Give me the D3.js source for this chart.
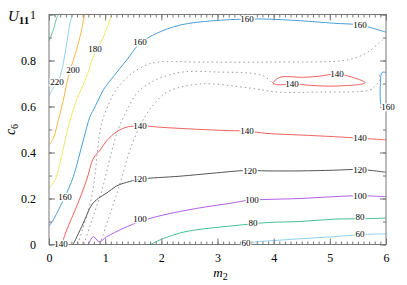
<!DOCTYPE html>
<html>
<head>
<meta charset="utf-8">
<script src="https://cdn.jsdelivr.net/npm/d3@7"></script>
<style>
  body { margin: 0; background: #fff; }
  svg text { font-family: "Liberation Serif", "Times New Roman", "DejaVu Serif", serif !important; }
</style>
</head>
<body>
<script>
// contour lines of U_11 over (m2, c6) as [m2, c6] pairs
var c240 = [[0,0.885],[0.077,0.933],[0.125,0.976],[0.166,1.0]];
var c220 = [[0,0.646],[0.107,0.693],[0.166,0.709],[0.255,0.788],[0.315,0.875],[0.374,0.962],[0.415,1.0]];
var c200 = [[0,0.433],[0.077,0.462],[0.166,0.54],[0.255,0.628],[0.344,0.73],[0.43,0.80],[0.49,0.846],[0.58,0.933],[0.63,1.0]];
var c180 = [[0,0.244],[0.107,0.28],[0.196,0.353],[0.315,0.483],[0.43,0.585],[0.49,0.628],[0.67,0.73],[0.79,0.817],[0.97,0.903],[1.116,1.0]];
var c160 = [[0,0.08],[0.077,0.107],[0.196,0.164],[0.285,0.208],[0.433,0.295],[0.611,0.454],[0.73,0.556],[0.789,0.585],
            [0.878,0.628],[0.967,0.672],[1.145,0.73],[1.383,0.802],[1.62,0.875],[1.917,0.918],[2.332,0.954],
            [2.925,0.973],[3.52,0.98],[3.881,0.98],[4.469,0.973],[5.069,0.962],[5.537,0.954],[6,0.923]];
var c160b = [[6,0.748],[5.93,0.748],[5.90,0.698],[5.92,0.603],[5.96,0.6],[6,0.6]];
var c140 = [[0.226,0],[0.315,0.063],[0.49,0.164],[0.67,0.28],[0.79,0.375],[0.91,0.411],[1.03,0.452],[1.205,0.49],
            [1.38,0.51],[1.62,0.516],[2.03,0.509],[2.63,0.501],[3.22,0.495],[3.52,0.493],[3.88,0.483],
            [4.47,0.476],[5.07,0.469],[5.54,0.462],[6,0.455]];
var c140b = [[3.98,0.703],[4.11,0.727],[4.53,0.727],[4.82,0.732],[5.12,0.741],[5.36,0.730],[5.63,0.703],
             [5.12,0.689],[4.65,0.692],[4.35,0.698],[4.05,0.695],[3.98,0.703]];
var c120 = [[0.43,0],[0.61,0.092],[0.76,0.172],[0.88,0.201],[1.03,0.224],[1.205,0.255],[1.44,0.274],[1.62,0.284],
            [2.33,0.297],[2.92,0.31],[3.52,0.322],[3.88,0.32],[4.47,0.32],[5.07,0.323],[5.54,0.326],[6,0.314]];
var c100 = [[0.70,0],[0.79,0.034],[0.895,0.012],[1.03,0.034],[1.32,0.07],[1.62,0.10],[2.03,0.128],[2.63,0.157],
            [3.22,0.179],[3.58,0.193],[3.88,0.196],[4.47,0.2],[5.07,0.208],[5.54,0.212],[6,0.208]];
var c80 = [[1.81,0],[2.035,0.026],[2.33,0.05],[2.63,0.064],[3.22,0.08],[3.64,0.09],[3.93,0.096],[4.47,0.10],
           [5.07,0.11],[5.60,0.112],[6,0.115]];
var c60 = [[3.40,0],[3.70,0.012],[3.88,0.015],[4.47,0.025],[5.07,0.034],[5.54,0.043],[6,0.046]];

// dotted boundaries
var dotA = [[0.516,0.002],[0.605,0.072],[0.694,0.141],[0.766,0.215],[0.819,0.302],[0.855,0.389],[0.89,0.463],
            [0.944,0.533],[1.033,0.593],[1.193,0.672],[1.442,0.737],[1.727,0.78],[1.941,0.793],[2.688,0.793],
            [3.934,0.793],[5.181,0.798],[5.448,0.811],[5.679,0.837],[5.893,0.88],[6,0.902]];
var dotB = [[0.623,0.002],[0.73,0.08],[0.837,0.159],[0.944,0.237],[1.033,0.324],[1.122,0.411],[1.228,0.498],
            [1.371,0.576],[1.567,0.659],[1.798,0.702],[1.976,0.724],[2.386,0.75],[2.991,0.75],[3.703,0.741],
            [3.881,0.724],[4.006,0.693]];
var dotC = [[0.908,0.002],[1.015,0.08],[1.122,0.159],[1.228,0.237],[1.335,0.324],[1.442,0.411],[1.585,0.498],
            [1.727,0.563],[1.887,0.615],[2.101,0.663],[2.688,0.698],[3.578,0.68],[4.059,0.663],[4.825,0.663],
            [5.715,0.672],[5.822,0.693],[5.893,0.715],[5.857,0.75]];

var levels = [
  {v: 240, pts: c240, col: "#66c2a5"},
  {v: 220, pts: c220, col: "#8fd0ef"},
  {v: 200, pts: c200, col: "#f5b54a"},
  {v: 180, pts: c180, col: "#f4e46c"},
  {v: 160, pts: c160, col: "#4b9fd6"},
  {v: 160, pts: c160b, col: "#4b9fd6"},
  {v: 140, pts: c140, col: "#f0625e"},
  {v: 140, pts: c140b, col: "#f0625e"},
  {v: 120, pts: c120, col: "#555555"},
  {v: 100, pts: c100, col: "#b160e6"},
  {v: 80, pts: c80, col: "#43bf98"},
  {v: 60, pts: c60, col: "#8fd0ef"}
];
var dotted = [dotA, dotB, dotC];

// contour labels: [text, m2, c6]
var labels = [
  ["220",0.142,0.707],["200",0.427,0.759],["180",0.819,0.85],
  ["160",1.62,0.88],["160",3.525,0.98],["160",5.537,0.954],["160",0.285,0.207],["160",6.035,0.598],
  ["140",1.62,0.515],["140",3.525,0.493],["140",5.537,0.463],["140",0.214,0.004],["140",5.127,0.741],["140",4.326,0.698],
  ["120",1.62,0.285],["120",3.579,0.319],["120",5.537,0.324],
  ["100",1.62,0.111],["100",3.614,0.193],["100",5.537,0.211],
  ["80",3.632,0.093],["80",5.537,0.12],
  ["60",3.507,0.008],["60",5.537,0.046]
];

var xTicks = [0,1,2,3,4,5,6];
var yTicks = [0,0.2,0.4,0.6,0.8,1];

var W = 407, H = 285;
var margin = {left: 49, right: 21, top: 14.5, bottom: 40.5};
var serif = "'Liberation Serif', 'Times New Roman', serif";

var svg = d3.select("body").append("svg")
    .attr("width", W)
    .attr("height", H);

var x = d3.scaleLinear().domain([0, 6]).range([margin.left, W - margin.right]);
var y = d3.scaleLinear().domain([0, 1]).range([H - margin.bottom, margin.top]);

svg.append("clipPath").attr("id", "clip")
  .append("rect")
    .attr("x", x(0)).attr("y", y(1))
    .attr("width", x(6) - x(0)).attr("height", y(0) - y(1));

var line = d3.line()
    .x(function(d) { return x(d[0]); })
    .y(function(d) { return y(d[1]); })
    .curve(d3.curveCatmullRom.alpha(0.5));

var plot = svg.append("g").attr("clip-path", "url(#clip)");

plot.selectAll("path.dot")
    .data(dotted)
  .enter().append("path")
    .attr("class", "dot")
    .attr("d", line)
    .attr("fill", "none")
    .attr("stroke", "#9a9a9a")
    .attr("stroke-width", 1)
    .attr("stroke-dasharray", "1.5,3");

plot.selectAll("path.lev")
    .data(levels)
  .enter().append("path")
    .attr("class", "lev")
    .attr("d", function(d) { return line(d.pts); })
    .attr("fill", "none")
    .attr("stroke", function(d) { return d.col; })
    .attr("stroke-width", 1);

// minor + major ticks, all pointing inward
function ticks(axis, scale, vals, size, fmt, pad) {
  return axis(scale).tickValues(vals).tickSizeInner(-size).tickSizeOuter(0)
    .tickPadding(pad).tickFormat(fmt);
}
var minorX = d3.range(0, 61).map(function(i) { return i / 10; });
var minorY = d3.range(0, 11).map(function(i) { return i / 10; });
var none = function() { return ""; };

var axes = [
  [d3.axisBottom, x, minorX, 3, none, 0, "translate(0," + y(0) + ")"],
  [d3.axisBottom, x, xTicks, 6, d3.format("d"), 9, "translate(0," + y(0) + ")"],
  [d3.axisTop, x, minorX, 3, none, 0, "translate(0," + y(1) + ")"],
  [d3.axisTop, x, xTicks, 6, none, 0, "translate(0," + y(1) + ")"],
  [d3.axisLeft, y, minorY, 3, none, 0, "translate(" + x(0) + ",0)"],
  [d3.axisLeft, y, yTicks, 6, function(d) { return d === 0 || d === 1 ? d : d.toFixed(1); }, 13, "translate(" + x(0) + ",0)"],
  [d3.axisRight, y, minorY, 3, none, 0, "translate(" + x(6) + ",0)"],
  [d3.axisRight, y, yTicks, 6, none, 0, "translate(" + x(6) + ",0)"]
];
axes.forEach(function(a) {
  var g = svg.append("g")
      .attr("transform", a[6])
      .attr("font-family", serif)
      .call(ticks(a[0], a[1], a[2], a[3], a[4], a[5]));
  g.attr("font-family", serif).attr("font-size", 12);
  g.select(".domain").remove();
  g.selectAll("line").attr("stroke", "#777");
  g.selectAll("text").attr("fill", "#000");
});

svg.append("rect")
    .attr("x", x(0)).attr("y", y(1))
    .attr("width", x(6) - x(0)).attr("height", y(0) - y(1))
    .attr("fill", "none")
    .attr("stroke", "#777")
    .attr("stroke-width", 1);

// contour labels with a white halo so the line breaks
svg.selectAll("text.lab")
    .data(labels)
  .enter().append("text")
    .attr("class", "lab")
    .attr("x", function(d) { return x(d[1]); })
    .attr("y", function(d) { return y(d[2]); })
    .attr("dy", "0.35em")
    .attr("text-anchor", "middle")
    .attr("font-family", serif)
    .attr("font-size", 9)
    .attr("fill", "#000")
    .attr("stroke", "#fff")
    .attr("stroke-width", 2.5)
    .attr("paint-order", "stroke")
    .text(function(d) { return d[0]; });

// titles
var t = svg.append("text").attr("x", 8).attr("y", 21).attr("font-size", 15).attr("font-family", serif);
t.append("tspan").attr("font-style", "italic").text("U");
t.append("tspan").attr("dy", 3).attr("font-size", 11).attr("font-weight", "bold").text("11");

var yl = svg.append("text")
    .attr("transform", "translate(15," + y(0.5) + ") rotate(-90)")
    .attr("text-anchor", "middle")
    .attr("font-family", serif)
    .attr("font-size", 14);
yl.append("tspan").attr("font-style", "italic").text("c");
yl.append("tspan").attr("dy", 3).attr("font-size", 10).text("6");

var xl = svg.append("text")
    .attr("x", x(3) + 3)
    .attr("y", 277)
    .attr("text-anchor", "middle")
    .attr("font-family", serif)
    .attr("font-size", 13);
xl.append("tspan").attr("font-style", "italic").text("m");
xl.append("tspan").attr("dy", 3).attr("font-size", 10).text("2");
</script>
</body>
</html>
